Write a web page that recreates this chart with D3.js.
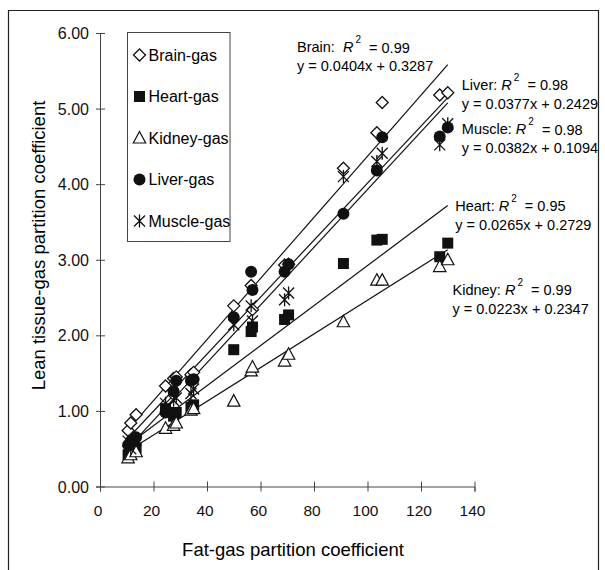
<!DOCTYPE html>
<html>
<head>
<meta charset="utf-8">
<script src="https://cdn.jsdelivr.net/npm/d3@7"></script>
<style>
  body { margin: 0; background: #fff; }
  svg { font-family: "Liberation Sans", Arial, sans-serif; }
</style>
</head>
<body>
<svg width="605" height="570"></svg>
<script>
// fat-gas partition coefficient of each gas (shared x values)
const gasX = [10.5, 11.5, 13.5, 24.5, 27.5, 28.5, 34, 35, 50, 56.5, 57, 69, 70.5, 91, 103.5, 105.5, 127, 130];

// lean tissue-gas partition coefficients, one value per gas
const brain  = [0.74, 0.84, 0.95, 1.33, 1.43, 1.45, 1.48, 1.51, 2.39, 2.66, 2.34, 2.93, 2.94, 4.21, 4.68, 5.08, 5.18, 5.21];
const heart  = [0.42, 0.46, 0.51, 1.03, 0.93, 0.98, 1.05, 1.08, 1.81, 2.05, 2.11, 2.21, 2.27, 2.95, 3.26, 3.27, 3.04, 3.22];
const kidney = [0.38, 0.42, 0.46, 0.77, 0.81, 0.84, 1.01, 1.03, 1.13, 1.53, 1.58, 1.66, 1.75, 2.18, 2.73, 2.73, 2.91, 3.00];
const liver  = [0.55, 0.60, 0.65, 0.98, 1.26, 1.40, 1.40, 1.42, 2.24, 2.84, 2.60, 2.84, 2.94, 3.61, 4.18, 4.62, 4.63, 4.75];
const muscle = [0.60, 0.50, 0.62, 1.10, 1.14, 1.17, 1.23, 1.29, 2.14, 2.39, 2.19, 2.47, 2.56, 4.10, 4.30, 4.41, 4.52, 4.80];

const seriesNames = ["Brain-gas", "Heart-gas", "Kidney-gas", "Liver-gas", "Muscle-gas"];
const seriesValues = [brain, heart, kidney, liver, muscle];
const seriesShapes = ["diamond", "square", "triangle", "circle", "star"];

// trendlines: label, slope, intercept, R^2
const fitNames = ["Brain", "Liver", "Muscle", "Heart", "Kidney"];
const fitSlope = [0.0404, 0.0377, 0.0382, 0.0265, 0.0223];
const fitIntercept = [0.3287, 0.2429, 0.1094, 0.2729, 0.2347];
const fitR2 = ["0.99", "0.98", "0.98", "0.95", "0.99"];

const xTicks = [0, 20, 40, 60, 80, 100, 120, 140];
const yTicks = [0, 1, 2, 3, 4, 5, 6];

const svg = d3.select("svg");

// outer frame (top, left, right only)
svg.append("path")
    .attr("d", "M8.5,570 V10.5 H598.5 V570")
    .attr("fill", "none")
    .attr("stroke", "#222")
    .attr("stroke-width", 1.2);

const x = d3.scaleLinear().domain([0, 140]).range([100, 474.5]);
const y = d3.scaleLinear().domain([0, 6]).range([486.5, 33]);

// axes
const xAxis = svg.append("g")
    .attr("transform", `translate(0,${y(0)})`)
    .call(d3.axisBottom(x).tickValues(xTicks).tickSizeOuter(0).tickSize(5));
xAxis.selectAll(".tick line").attr("y1", -5).attr("y2", 5);
xAxis.selectAll(".tick text")
    .attr("y", 24).attr("dy", "0.35em").attr("dx", -2.5)
    .attr("font-size", 15.5).attr("fill", "#111");

const yAxis = svg.append("g")
    .attr("transform", `translate(${x(0)},0)`)
    .call(d3.axisLeft(y).tickValues(yTicks).tickFormat(d3.format(".2f")).tickSizeOuter(0).tickSize(4));
yAxis.selectAll(".tick line").attr("x1", -4).attr("x2", 5);
yAxis.selectAll(".tick text")
    .attr("x", -11).attr("dy", "0.35em")
    .attr("font-size", 16).attr("fill", "#111");

svg.selectAll(".domain, .tick line").attr("stroke", "#444");
svg.selectAll("g").attr("font-family", null);

// axis titles
svg.append("text")
    .attr("x", 293).attr("y", 550).attr("dy", "0.35em")
    .attr("text-anchor", "middle").attr("font-size", 18.5)
    .text("Fat-gas partition coefficient");
svg.append("text")
    .attr("transform", "translate(38.5,245.5) rotate(-90)")
    .attr("dy", "0.35em")
    .attr("text-anchor", "middle").attr("font-size", 18.5)
    .text("Lean tissue-gas partition coefficient");

// regression lines across the data range
const xExt = d3.extent(gasX);
svg.append("g").selectAll("line")
    .data(fitNames.map((n, i) => ({ m: fitSlope[i], b: fitIntercept[i] })))
    .join("line")
    .attr("x1", x(xExt[0])).attr("x2", x(xExt[1]))
    .attr("y1", d => y(d.m * xExt[0] + d.b))
    .attr("y2", d => y(d.m * xExt[1] + d.b))
    .attr("stroke", "#111").attr("stroke-width", 1.2);

// marker drawing
function marker(sel, shape) {
    if (shape === "diamond") {
        sel.append("path").attr("d", "M0,-6 L6,0 L0,6 L-6,0 Z")
            .attr("fill", "#fff").attr("stroke", "#111").attr("stroke-width", 1.3);
    } else if (shape === "square") {
        sel.append("rect").attr("x", -5.5).attr("y", -5.5).attr("width", 11).attr("height", 11)
            .attr("fill", "#111");
    } else if (shape === "triangle") {
        sel.append("path").attr("d", "M0,-6.5 L6.2,5 L-6.2,5 Z")
            .attr("fill", "#fff").attr("stroke", "#111").attr("stroke-width", 1.2);
    } else if (shape === "circle") {
        sel.append("circle").attr("r", 6).attr("fill", "#111");
    } else {
        sel.append("path").attr("d", "M0,-6.5 V6.5 M-5.5,-5.5 L5.5,5.5 M5.5,-5.5 L-5.5,5.5")
            .attr("fill", "none").attr("stroke", "#111").attr("stroke-width", 1.3);
    }
}

seriesValues.forEach((vals, i) => {
    svg.append("g").selectAll("g")
        .data(vals.map((v, j) => [gasX[j], v]))
        .join("g")
        .attr("transform", d => `translate(${x(d[0])},${y(d[1])})`)
        .each(function () { marker(d3.select(this), seriesShapes[i]); });
});

// legend
const legend = svg.append("g");
legend.append("rect")
    .attr("x", 127.5).attr("y", 32.5).attr("width", 102.5).attr("height", 209)
    .attr("fill", "#fff").attr("stroke", "#444").attr("stroke-width", 1);
seriesNames.forEach((name, i) => {
    const g = legend.append("g").attr("transform", `translate(139.5,${55 + i * 41.5})`);
    marker(g, seriesShapes[i]);
    g.append("text").attr("x", 9).attr("dy", "0.35em").attr("font-size", 16).text(name);
});

// trendline annotations
const labelPos = [[297, 47.3], [461.8, 84.7], [461.8, 129], [455.2, 205.5], [452.5, 289.8]];
fitNames.forEach((n, i) => {
    const t = svg.append("text")
        .attr("x", labelPos[i][0]).attr("y", labelPos[i][1]).attr("dy", "0.35em")
        .attr("font-size", 14.5);
    t.append("tspan").text(n + ":" + (i === 0 ? "\u00a0\u00a0" : "\u00a0"));
    t.append("tspan").attr("font-style", "italic").text("R");
    t.append("tspan").attr("font-size", 10).attr("dy", "-0.9em").attr("dx", 2).text("2");
    t.append("tspan").attr("dy", "0.65em").text("\u00a0 = " + fitR2[i]);
    svg.append("text")
        .attr("x", labelPos[i][0]).attr("y", labelPos[i][1] + 19).attr("dy", "0.35em")
        .attr("font-size", 14.5)
        .text(`y = ${fitSlope[i].toFixed(4)}x + ${fitIntercept[i].toFixed(4)}`);
});
</script>
</body>
</html>
